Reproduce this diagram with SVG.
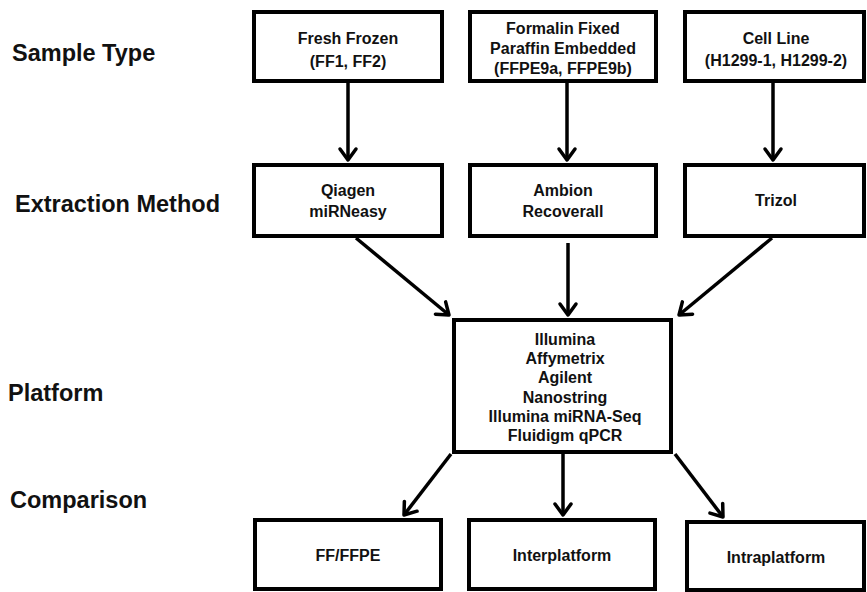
<svg xmlns="http://www.w3.org/2000/svg" width="867" height="592" viewBox="0 0 867 592">
<defs>
<marker id="ah" markerUnits="userSpaceOnUse" markerWidth="30" markerHeight="30" viewBox="-15 -15 30 30" refX="0" refY="0" orient="auto">
<path d="M-11,-8 L0,0 L-11,8" fill="none" stroke="#000" stroke-width="3.5" stroke-linecap="round" stroke-linejoin="round"/>
</marker>
</defs>
<style>
.box{fill:#fff;stroke:#000;stroke-width:4}
.t{font-family:"Liberation Sans",Arial,sans-serif;font-size:16px;font-weight:bold;text-anchor:middle;fill:#111}
.lab{font-family:"Liberation Sans",Arial,sans-serif;font-size:23.5px;font-weight:bold;fill:#111}
.c{stroke:#000;stroke-width:3.5;fill:none;marker-end:url(#ah)}
</style>
<rect width="867" height="592" fill="#fff"/>
<g id="labels">
<text class="lab" x="12" y="61">Sample Type</text>
<text class="lab" x="15" y="212">Extraction Method</text>
<text class="lab" x="8" y="401">Platform</text>
<text class="lab" x="10" y="508">Comparison</text>
</g>
<g id="connectors">
<line class="c" x1="348" y1="83" x2="348" y2="160"/>
<line class="c" x1="567" y1="83" x2="567" y2="160"/>
<line class="c" x1="773" y1="83" x2="773" y2="160"/>
<line class="c" x1="356" y1="238" x2="449" y2="315"/>
<line class="c" x1="568" y1="243" x2="568" y2="315"/>
<line class="c" x1="772" y1="238" x2="679" y2="315"/>
<line class="c" x1="451" y1="454" x2="404" y2="515"/>
<line class="c" x1="563" y1="454" x2="563" y2="515"/>
<line class="c" x1="675" y1="454" x2="723" y2="517"/>
</g>
<g id="ff">
<rect class="box" x="254" y="12" width="188" height="69"/>
<text class="t" x="348" y="44">Fresh Frozen</text>
<text class="t" x="348" y="67">(FF1, FF2)</text>
</g>
<g id="ffpe">
<rect class="box" x="470" y="12" width="186" height="69"/>
<text class="t" x="563" y="34">Formalin Fixed</text>
<text class="t" x="563" y="54">Paraffin Embedded</text>
<text class="t" x="563" y="74">(FFPE9a, FFPE9b)</text>
</g>
<g id="cellline">
<rect class="box" x="685" y="12" width="179" height="69"/>
<text class="t" x="776" y="44">Cell Line</text>
<text class="t" x="776" y="66">(H1299-1, H1299-2)</text>
</g>
<g id="qiagen">
<rect class="box" x="254" y="165" width="188" height="71"/>
<text class="t" x="348" y="196">Qiagen</text>
<text class="t" x="348" y="217">miRNeasy</text>
</g>
<g id="ambion">
<rect class="box" x="470" y="165" width="186" height="71"/>
<text class="t" x="563" y="196">Ambion</text>
<text class="t" x="563" y="217">Recoverall</text>
</g>
<g id="trizol">
<rect class="box" x="685" y="165" width="179" height="71"/>
<text class="t" x="776" y="206">Trizol</text>
</g>
<g id="platform">
<rect class="box" x="454" y="320" width="217" height="132"/>
<text class="t" x="565" y="345">Illumina</text>
<text class="t" x="565" y="364">Affymetrix</text>
<text class="t" x="565" y="383">Agilent</text>
<text class="t" x="565" y="403">Nanostring</text>
<text class="t" x="565" y="422">Illumina miRNA-Seq</text>
<text class="t" x="565" y="441">Fluidigm qPCR</text>
</g>
<g id="fffpe">
<rect class="box" x="255" y="520" width="186" height="69"/>
<text class="t" x="348" y="561">FF/FFPE</text>
</g>
<g id="inter">
<rect class="box" x="469" y="520" width="186" height="69"/>
<text class="t" x="562" y="561">Interplatform</text>
</g>
<g id="intra">
<rect class="box" x="687" y="522" width="177" height="68"/>
<text class="t" x="776" y="563">Intraplatform</text>
</g>
</svg>
